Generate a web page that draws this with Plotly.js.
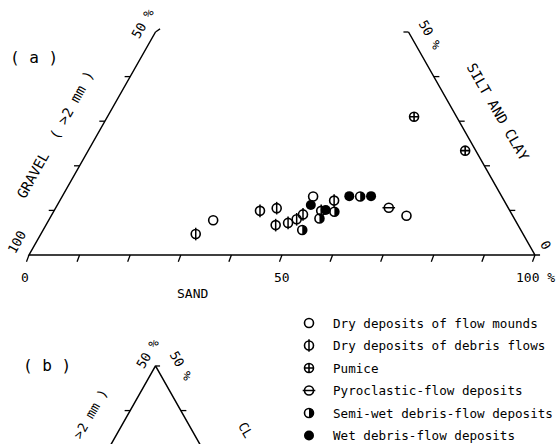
<!DOCTYPE html>
<html><head><meta charset="utf-8">
<script src="https://cdn.plot.ly/plotly-3.0.1.min.js"></script>
<style>html,body{margin:0;padding:0;background:#fff}</style>
</head><body><div id="chart" style="width:556px;height:444px"></div>
<script>
// ---- Data: sand %, silt-and-clay %; gravel = 100 - sand - silt/clay
const categories = ["Dry deposits of flow mounds", "Dry deposits of debris flows", "Pumice",
  "Pyroclastic-flow deposits", "Semi-wet debris-flow deposits", "Wet debris-flow deposits"];
const flowMoundSand = [32.5, 49.6, 70.2];
const flowMoundSilt = [7.8, 13.1, 8.8];
const dryDebrisSand = [30.6, 40.7, 43.7, 45.4, 47.6, 48.9, 49.6, 52.8, 54.2];
const dryDebrisSilt = [4.7, 9.9, 10.5, 6.7, 7.2, 8.0, 9.1, 9.9, 12.2];
const pumiceSand = [60.6, 74.5];
const pumiceSilt = [31.0, 23.4];
const pyroSand = [65.8];
const pyroSilt = [10.6];
const semiWetSand = [51.2, 53.3, 55.5, 58.9];
const semiWetSilt = [5.6, 8.2, 9.7, 13.1];
const wetSand = [50.1, 53.6, 56.7, 61.0];
const wetSilt = [11.2, 10.1, 13.2, 13.2];
const sandTicks = [0, 10, 20, 30, 40, 50, 60, 70, 80, 90, 100];
const sandTickLabels = ["0", "50", "100 %"];
const sandTickLabelAt = [0, 50, 100];
const sideTicks = [10, 20, 30, 40];

// ---- geometry / layout
const W = 556, H = 444;
const X0PX = 29, Y0PX = 255, PXX = 5.06, PXY = 5.15;
const R3 = Math.sqrt(3) / 2;
const FONT = "DejaVu Sans Mono";
function tx(sand, silt) { return sand + silt / 2; }
function ty(silt) { return silt * R3; }
function P(xpx, ypx) { return { x: xpx / W, y: 1 - ypx / H }; }

const traces = [];
function addLine(xs, ys, xa, ya, w) {
  traces.push({ type: "scatter", mode: "lines", x: xs, y: ys, xaxis: xa, yaxis: ya,
    line: { color: "black", width: w || 1.5 }, hoverinfo: "skip", showlegend: false });
}

// Panel (a) frame
addLine([tx(0, 50), tx(0, 0), tx(101, 0), tx(100, 0), tx(50, 50)], [ty(50), ty(0), ty(0), ty(0), ty(50)], "x", "y");
// ticks
(function () {
  const xs = [], ys = [];
  sandTicks.forEach(s => { xs.push(tx(s, 0), tx(s, 0) - 0.5, null); ys.push(0, -1.3, null); });
  sideTicks.forEach(c => {
    xs.push(tx(0, c), tx(0, c) - 1.1, null); ys.push(ty(c), ty(c), null);
    xs.push(tx(100 - c, c), tx(100 - c, c) + 1.1, null); ys.push(ty(c), ty(c), null);
  });
  xs.push(tx(0, 50), tx(0, 50) + 0.9, null); ys.push(ty(50), ty(50) + 0.6, null);
  xs.push(tx(50, 50), tx(50, 50) - 1.0, null); ys.push(ty(50), ty(50), null);
  addLine(xs, ys, "x", "y", 1.3);
})();

// Panel (b) frame (apex at 50 %)
const apexB = { x: 25, y: -21.55 };
(function () {
  const L = 25;
  addLine([apexB.x - L * 0.5, apexB.x, apexB.x + L * 0.5], [apexB.y - L * R3, apexB.y, apexB.y - L * R3], "x", "y");
  const t = 10;
  addLine([apexB.x - t * 0.5, apexB.x - t * 0.5 - 1.1, null, apexB.x + t * 0.5, apexB.x + t * 0.5 + 1.1, null, apexB.x, apexB.x + 0.9],
          [apexB.y - t * R3, apexB.y - t * R3, null, apexB.y - t * R3, apexB.y - t * R3, null, apexB.y, apexB.y], "x", "y", 1.3);
})();

// ---- symbols
const styles = {};
styles[categories[0]] = { base: "circle-open" };
styles[categories[1]] = { base: "circle-open", over: "line-ns-open" };
styles[categories[2]] = { base: "circle-cross-open" };
styles[categories[3]] = { base: "circle-open", over: "line-ew-open" };
styles[categories[4]] = { base: "circle-open", half: true };
styles[categories[5]] = { base: "circle" };

function addSymbols(cat, xs, ys, xa, ya, pxx, pxy) {
  const st = styles[cat];
  const size = 9;
  if (st.half) {
    const rx = 4.6 / pxx, ry = 4.6 / pxy;
    const hx = [], hy = [];
    xs.forEach((cx, i) => {
      const cy = ys[i];
      for (let a = -90; a <= 90; a += 15) {
        const r = a * Math.PI / 180;
        hx.push(cx + rx * Math.cos(r)); hy.push(cy + ry * Math.sin(r));
      }
      hx.push(null); hy.push(null);
    });
    traces.push({ type: "scatter", mode: "lines", x: hx, y: hy, xaxis: xa, yaxis: ya, fill: "toself",
      fillcolor: "black", line: { width: 0, color: "black" }, hoverinfo: "skip", showlegend: false });
  }
  traces.push({ type: "scatter", mode: "markers", x: xs, y: ys, xaxis: xa, yaxis: ya, name: cat,
    marker: { symbol: st.base, size: st.base === "circle" ? 10 : size, color: "black",
      line: { color: "black", width: st.base === "circle" ? 0 : 1.6 } },
    hoverinfo: "name", showlegend: false, cliponaxis: false });
  if (st.over) {
    traces.push({ type: "scatter", mode: "markers", x: xs, y: ys, xaxis: xa, yaxis: ya,
      marker: { symbol: st.over, size: size, color: "black", line: { color: "black", width: 1.5 } },
      hoverinfo: "skip", showlegend: false, cliponaxis: false });
  }
}

const series = [
  [flowMoundSand, flowMoundSilt], [dryDebrisSand, dryDebrisSilt], [pumiceSand, pumiceSilt],
  [pyroSand, pyroSilt], [semiWetSand, semiWetSilt], [wetSand, wetSilt]
];
series.forEach((s, k) => {
  addSymbols(categories[k], s[0].map((v, i) => tx(v, s[1][i])), s[1].map(ty), "x", "y", PXX, PXY);
});

// legend (drawn on its own axis pair: x in px offset, y = row index)
const LEG_PXX = 1.0, LEG_PXY = 22.5;
categories.forEach((c, i) => addSymbols(c, [0], [i], "x2", "y2", LEG_PXX, LEG_PXY));

// ---- annotations
const ann = [];
function A(o) { ann.push(Object.assign({ showarrow: false, font: { family: FONT, size: 13, color: "black" },
  xanchor: "center", yanchor: "middle" }, o)); }
categories.forEach((c, i) => A({ xref: "x2", yref: "y2", x: 22, y: i, text: c, xanchor: "left",
  font: { family: FONT, size: 12.6, color: "black" } }));
sandTickLabels.forEach((t, i) => A({ xref: "x", yref: "y", x: tx(sandTickLabelAt[i], 0) - (i === 0 ? 0.7 : 0), y: -4.3, text: t }));
A(Object.assign({ xref: "paper", yref: "paper", text: "SAND" }, P(192, 293)));
A(Object.assign({ xref: "paper", yref: "paper", text: "( a )", font: { family: FONT, size: 16, color: "black" } }, P(34, 57)));
A(Object.assign({ xref: "paper", yref: "paper", text: "100", textangle: -61 }, P(17, 243)));
A(Object.assign({ xref: "paper", yref: "paper", text: "50 %", textangle: -61 }, P(142, 24)));
A(Object.assign({ xref: "paper", yref: "paper", text: "50 %", textangle: 60 }, P(430, 34)));
A(Object.assign({ xref: "paper", yref: "paper", text: "0", textangle: 60 }, P(546, 245)));
A(Object.assign({ xref: "paper", yref: "paper", text: "GRAVEL  ( >2 mm )", textangle: -61,
  font: { family: FONT, size: 14, color: "black" } }, P(55, 135)));
A(Object.assign({ xref: "paper", yref: "paper", text: "SILT AND CLAY", textangle: 60,
  font: { family: FONT, size: 14, color: "black" } }, P(498, 112)));
A(Object.assign({ xref: "paper", yref: "paper", text: "( b )", font: { family: FONT, size: 16, color: "black" } }, P(47, 365)));
A(Object.assign({ xref: "paper", yref: "paper", text: "50 %", textangle: -60 }, P(147, 354)));
A(Object.assign({ xref: "paper", yref: "paper", text: "50 %", textangle: 60 }, P(181, 365)));
A(Object.assign({ xref: "paper", yref: "paper", text: ">2 mm )", textangle: -60,
  font: { family: FONT, size: 13, color: "black" } }, P(90, 414)));
A(Object.assign({ xref: "paper", yref: "paper", text: "CL", textangle: 60,
  font: { family: FONT, size: 13, color: "black" } }, P(246, 430)));

const layout = {
  width: W, height: H, margin: { l: 0, r: 0, t: 0, b: 0 },
  paper_bgcolor: "white", plot_bgcolor: "rgba(0,0,0,0)", showlegend: false,
  xaxis: { domain: [0, 1], range: [-X0PX / PXX, (W - X0PX) / PXX], visible: false, fixedrange: true },
  yaxis: { domain: [0, 1], range: [-(H - Y0PX) / PXY, Y0PX / PXY], visible: false, fixedrange: true },
  xaxis2: { domain: [0.5, 1], range: [-31, 247], visible: false, anchor: "y2", fixedrange: true },
  yaxis2: { domain: [0, 144 / H], range: [(H - 323) / LEG_PXY, -(323 - 300) / LEG_PXY], visible: false, anchor: "x2", fixedrange: true },
  annotations: ann
};
Plotly.newPlot("chart", traces, layout, { displayModeBar: false, staticPlot: true });
</script></body></html>
